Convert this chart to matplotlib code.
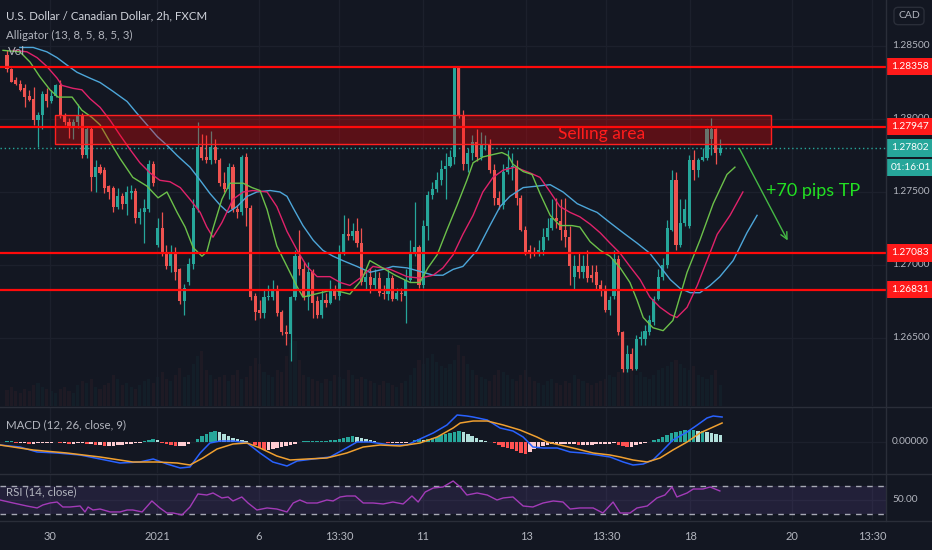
import matplotlib
matplotlib.use("Agg")
import matplotlib.pyplot as plt
import numpy as np
from matplotlib.transforms import blended_transform_factory
from matplotlib.patches import Rectangle
from matplotlib.lines import Line2D

plt.rcParams["font.family"] = ["Lato", "DejaVu Sans"]

# ---- data (bar index = one 2h candle) ----
opens = [
    1.2844, 1.2834, 1.2827, 1.2824, 1.2821, 1.2816, 1.2814, 1.2799, 1.2803, 1.2817,
    1.2812, 1.2816, 1.2823, 1.2803, 1.2798, 1.2794, 1.2798, 1.2803, 1.2775, 1.2793,
    1.2760, 1.2767, 1.2765, 1.2754, 1.2753, 1.2740, 1.2747, 1.2742, 1.2749, 1.2751,
    1.2732, 1.2736, 1.2738, 1.2769, 1.2714, 1.2725, 1.2709, 1.2699, 1.2709, 1.2697,
    1.2675, 1.2688, 1.2701, 1.2739, 1.2781, 1.2774, 1.2772, 1.2781, 1.2772, 1.2756,
    1.2752, 1.2767, 1.2738, 1.2736, 1.2774, 1.2739, 1.2679, 1.2669, 1.2667, 1.2678,
    1.2678, 1.2683, 1.2668, 1.2654, 1.2653, 1.2678, 1.2706, 1.2697, 1.2678, 1.2695,
    1.2675, 1.2666, 1.2676, 1.2674, 1.2683, 1.2679, 1.2708, 1.2721, 1.2720, 1.2723,
    1.2715, 1.2688, 1.2692, 1.2686, 1.2691, 1.2681, 1.2680, 1.2691, 1.2677, 1.2681,
    1.2679, 1.2690, 1.2708, 1.2712, 1.2686, 1.2727, 1.2748, 1.2752, 1.2758, 1.2766,
    1.2768, 1.2774, 1.2835, 1.2803, 1.2769, 1.2777, 1.2784, 1.2774, 1.2782, 1.2783,
    1.2765, 1.2746, 1.2741, 1.2764, 1.2767, 1.2767, 1.2746, 1.2724, 1.2710, 1.2709,
    1.2708, 1.2710, 1.2719, 1.2725, 1.2732, 1.2730, 1.2724, 1.2719, 1.2692, 1.2699,
    1.2695, 1.2699, 1.2693, 1.2695, 1.2686, 1.2683, 1.2669, 1.2679, 1.2704, 1.2654,
    1.2629, 1.2639, 1.2629, 1.2649, 1.2649, 1.2654, 1.2661, 1.2677, 1.2692, 1.2700,
    1.2724, 1.2758, 1.2714, 1.2729, 1.2727, 1.2772, 1.2765, 1.2772, 1.2773, 1.2786,
    1.2793, 1.2777,
]
highs = [
    1.2847, 1.2835, 1.2829, 1.2827, 1.2824, 1.2820, 1.2822, 1.2805, 1.2819, 1.2821,
    1.2820, 1.2824, 1.2827, 1.2804, 1.2801, 1.2800, 1.2810, 1.2804, 1.2795, 1.2795,
    1.2772, 1.2769, 1.2767, 1.2755, 1.2754, 1.2753, 1.2749, 1.2754, 1.2755, 1.2753,
    1.2739, 1.2745, 1.2772, 1.2771, 1.2732, 1.2736, 1.2714, 1.2714, 1.2712, 1.2698,
    1.2687, 1.2705, 1.2745, 1.2798, 1.2790, 1.2789, 1.2792, 1.2786, 1.2773, 1.2764,
    1.2770, 1.2769, 1.2741, 1.2775, 1.2777, 1.2741, 1.2681, 1.2676, 1.2683, 1.2686,
    1.2690, 1.2686, 1.2669, 1.2659, 1.2679, 1.2710, 1.2724, 1.2702, 1.2702, 1.2697,
    1.2679, 1.2683, 1.2681, 1.2690, 1.2686, 1.2714, 1.2734, 1.2732, 1.2729, 1.2732,
    1.2725, 1.2695, 1.2698, 1.2697, 1.2695, 1.2686, 1.2697, 1.2693, 1.2684, 1.2684,
    1.2697, 1.2717, 1.2743, 1.2714, 1.2731, 1.2751, 1.2757, 1.2764, 1.2772, 1.2777,
    1.2779, 1.2836, 1.2836, 1.2806, 1.2780, 1.2789, 1.2793, 1.2791, 1.2789, 1.2786,
    1.2769, 1.2751, 1.2769, 1.2779, 1.2777, 1.2772, 1.2748, 1.2727, 1.2714, 1.2712,
    1.2717, 1.2725, 1.2732, 1.2745, 1.2746, 1.2745, 1.2746, 1.2727, 1.2707, 1.2709,
    1.2707, 1.2710, 1.2700, 1.2700, 1.2690, 1.2686, 1.2679, 1.2710, 1.2707, 1.2655,
    1.2645, 1.2643, 1.2652, 1.2655, 1.2659, 1.2666, 1.2679, 1.2697, 1.2705, 1.2731,
    1.2765, 1.2764, 1.2745, 1.2745, 1.2775, 1.2779, 1.2773, 1.2780, 1.2794, 1.2801,
    1.2794, 1.2786,
]
lows = [
    1.2832, 1.2825, 1.2823, 1.2819, 1.2808, 1.2812, 1.2796, 1.2781, 1.2793, 1.2808,
    1.2811, 1.2815, 1.2801, 1.2796, 1.2787, 1.2786, 1.2794, 1.2773, 1.2773, 1.2751,
    1.2750, 1.2762, 1.2749, 1.2745, 1.2736, 1.2738, 1.2738, 1.2734, 1.2745, 1.2729,
    1.2728, 1.2715, 1.2736, 1.2754, 1.2712, 1.2706, 1.2697, 1.2695, 1.2690, 1.2673,
    1.2666, 1.2686, 1.2697, 1.2736, 1.2772, 1.2770, 1.2769, 1.2770, 1.2754, 1.2750,
    1.2745, 1.2736, 1.2732, 1.2734, 1.2727, 1.2676, 1.2662, 1.2664, 1.2664, 1.2676,
    1.2676, 1.2665, 1.2652, 1.2645, 1.2634, 1.2676, 1.2693, 1.2676, 1.2669, 1.2664,
    1.2664, 1.2664, 1.2671, 1.2673, 1.2677, 1.2676, 1.2707, 1.2717, 1.2717, 1.2712,
    1.2686, 1.2683, 1.2681, 1.2683, 1.2679, 1.2677, 1.2676, 1.2675, 1.2676, 1.2675,
    1.2660, 1.2688, 1.2706, 1.2684, 1.2684, 1.2717, 1.2745, 1.2750, 1.2755, 1.2745,
    1.2767, 1.2769, 1.2801, 1.2765, 1.2764, 1.2772, 1.2771, 1.2772, 1.2779, 1.2763,
    1.2741, 1.2738, 1.2738, 1.2762, 1.2758, 1.2741, 1.2723, 1.2707, 1.2705, 1.2706,
    1.2706, 1.2707, 1.2717, 1.2724, 1.2725, 1.2717, 1.2712, 1.2686, 1.2683, 1.2691,
    1.2691, 1.2688, 1.2688, 1.2683, 1.2679, 1.2668, 1.2666, 1.2677, 1.2652, 1.2627,
    1.2627, 1.2628, 1.2628, 1.2645, 1.2645, 1.2652, 1.2659, 1.2676, 1.2690, 1.2698,
    1.2723, 1.2710, 1.2712, 1.2727, 1.2725, 1.2758, 1.2760, 1.2771, 1.2772, 1.2775,
    1.2769, 1.2775,
]
closes = [
    1.2834, 1.2825, 1.2824, 1.2820, 1.2815, 1.2813, 1.2799, 1.2803, 1.2817, 1.2812,
    1.2816, 1.2823, 1.2803, 1.2798, 1.2794, 1.2798, 1.2803, 1.2775, 1.2793, 1.2760,
    1.2767, 1.2763, 1.2753, 1.2750, 1.2740, 1.2747, 1.2742, 1.2750, 1.2751, 1.2732,
    1.2736, 1.2739, 1.2769, 1.2756, 1.2725, 1.2708, 1.2699, 1.2709, 1.2695, 1.2675,
    1.2684, 1.2701, 1.2739, 1.2781, 1.2773, 1.2772, 1.2781, 1.2772, 1.2756, 1.2752,
    1.2767, 1.2738, 1.2736, 1.2774, 1.2739, 1.2678, 1.2668, 1.2667, 1.2678, 1.2679,
    1.2683, 1.2667, 1.2654, 1.2653, 1.2678, 1.2706, 1.2697, 1.2678, 1.2695, 1.2674,
    1.2666, 1.2676, 1.2674, 1.2683, 1.2679, 1.2708, 1.2721, 1.2720, 1.2723, 1.2715,
    1.2688, 1.2692, 1.2686, 1.2691, 1.2681, 1.2680, 1.2691, 1.2677, 1.2681, 1.2680,
    1.2690, 1.2708, 1.2712, 1.2686, 1.2727, 1.2748, 1.2752, 1.2758, 1.2766, 1.2768,
    1.2774, 1.2835, 1.2803, 1.2769, 1.2777, 1.2784, 1.2774, 1.2782, 1.2783, 1.2765,
    1.2746, 1.2741, 1.2764, 1.2767, 1.2768, 1.2746, 1.2724, 1.2709, 1.2708, 1.2708,
    1.2710, 1.2719, 1.2725, 1.2732, 1.2730, 1.2724, 1.2719, 1.2699, 1.2699, 1.2695,
    1.2699, 1.2691, 1.2691, 1.2686, 1.2683, 1.2669, 1.2676, 1.2704, 1.2654, 1.2629,
    1.2639, 1.2629, 1.2649, 1.2651, 1.2655, 1.2662, 1.2677, 1.2692, 1.2700, 1.2725,
    1.2758, 1.2714, 1.2729, 1.2738, 1.2772, 1.2765, 1.2772, 1.2774, 1.2793, 1.2793,
    1.2777, 1.27802,
]
volume = [
    15, 18, 14, 12, 16, 14, 20, 22, 18, 16, 14, 12, 16, 18, 14, 12, 20, 24, 22, 26,
    18, 16, 20, 22, 30, 26, 20, 22, 18, 16, 20, 24, 26, 22, 28, 32, 26, 24, 30, 36,
    28, 30, 40, 48, 52, 34, 30, 26, 28, 30, 24, 30, 34, 26, 28, 38, 46, 40, 32, 30,
    28, 34, 32, 48, 60, 62, 44, 30, 28, 26, 24, 22, 26, 24, 30, 28, 26, 34, 30, 26,
    28, 26, 24, 22, 20, 24, 22, 20, 18, 22, 24, 30, 36, 44, 40, 46, 50, 42, 38, 36,
    40, 44, 58, 48, 40, 34, 30, 28, 26, 24, 30, 34, 32, 30, 26, 24, 30, 34, 28, 24,
    22, 20, 24, 26, 22, 20, 24, 22, 30, 26, 24, 22, 20, 22, 24, 26, 30, 28, 32, 40,
    46, 34, 30, 32, 28, 26, 30, 34, 36, 38, 42, 44, 40, 36, 34, 38, 30, 28, 26, 30,
    34, 20,
]

# alligator lines (bar index, price), already shifted forward as on the chart
jaw_x = [2.9, 5.9, 9.0, 11.3, 13.5, 15.8, 18.7, 21.0, 23.9, 27.1, 29.3, 31.6, 33.9, 36.1,
         38.4, 40.2, 41.3, 43.6, 45.8, 48.1, 49.9, 51.9, 54.2, 56.4, 59.4, 61.6, 63.2,
         64.6, 66.8, 69.1, 71.3, 73.6, 75.8, 79.0, 81.9, 84.9, 87.1, 90.3, 93.9, 96.2,
         98.4, 100.7, 102.9, 106.1, 109.0, 111.3, 113.5, 116.5, 119.6, 122.6, 125.5,
         128.7, 131.6, 133.2, 136.1, 139.1, 142.2, 145.1, 147.4, 149.7, 151.9, 154.2,
         156.4, 158.7, 160.9, 163.9, 167.0, 169.3]
jaw_y = [1.2849, 1.2849, 1.2846, 1.2842, 1.2837, 1.2832, 1.2828, 1.2825, 1.2819, 1.2812,
         1.2804, 1.2796, 1.2788, 1.2782, 1.2775, 1.2770, 1.2767, 1.2758, 1.2749, 1.2741,
         1.2736, 1.2740, 1.2747, 1.2750, 1.2751, 1.2750, 1.2747, 1.2739, 1.2727, 1.2717,
         1.2710, 1.2706, 1.2703, 1.2699, 1.2695, 1.2697, 1.2699, 1.2698, 1.2695, 1.2693,
         1.2693, 1.2697, 1.2699, 1.2710, 1.2727, 1.2740, 1.2747, 1.2753, 1.2754, 1.2755,
         1.2750, 1.2742, 1.2738, 1.2736, 1.2729, 1.2722, 1.2715, 1.2708, 1.2699, 1.2690,
         1.2684, 1.2681, 1.2681, 1.2686, 1.2692, 1.2703, 1.2722, 1.2734]
teeth_x = [1.4, 4.5, 6.8, 9.0, 11.3, 12.4, 14.9, 16.9, 18.7, 21.0, 23.3, 25.5, 27.8, 30.0,
           32.3, 34.5, 36.8, 39.1, 41.3, 43.6, 45.1, 46.5, 48.5, 51.0, 53.3, 55.5, 58.7,
           60.9, 63.2, 65.5, 67.7, 70.0, 72.9, 75.2, 77.4, 79.7, 82.6, 86.5, 90.3, 93.2,
           96.2, 98.4, 100.7, 102.9, 105.2, 107.4, 109.7, 112.0, 114.7, 118.1, 120.3,
           122.6, 124.8, 127.1, 129.3, 131.6, 133.9, 136.1, 138.4, 140.6, 142.9, 145.1,
           147.4, 149.7, 151.2, 153.5, 155.8, 158.0, 160.3, 163.2, 166.1]
teeth_y = [1.2847, 1.2846, 1.2842, 1.2836, 1.2828, 1.2823, 1.2821, 1.2820, 1.2814, 1.2808,
           1.2799, 1.2789, 1.2779, 1.2770, 1.2763, 1.2758, 1.2757, 1.2753, 1.2745, 1.2736,
           1.2726, 1.2719, 1.2729, 1.2745, 1.2750, 1.2751, 1.2750, 1.2740, 1.2723, 1.2710,
           1.2699, 1.2692, 1.2692, 1.2688, 1.2686, 1.2691, 1.2699, 1.2697, 1.2692, 1.2691,
           1.2693, 1.2698, 1.2707, 1.2721, 1.2734, 1.2750, 1.2760, 1.2765, 1.2767, 1.2763,
           1.2760, 1.2750, 1.2740, 1.2736, 1.2733, 1.2728, 1.2722, 1.2715, 1.2708, 1.2699,
           1.2690, 1.2678, 1.2671, 1.2666, 1.2664, 1.2671, 1.2686, 1.2703, 1.2721, 1.2734,
           1.2750]
lips_x = [-0.9, 2.9, 5.2, 7.4, 9.7, 11.5, 14.7, 16.9, 19.2, 21.0, 23.3, 25.5, 28.4, 31.6,
          34.1, 36.1, 38.4, 40.2, 42.0, 44.0, 45.1, 46.5, 48.5, 50.3, 53.3, 55.3, 57.1,
          58.7, 60.9, 63.2, 65.5, 66.8, 69.5, 73.6, 77.4, 80.1, 81.9, 84.2, 87.6, 91.0,
          93.2, 95.0, 97.1, 99.3, 101.6, 103.8, 105.2, 107.4, 110.2, 111.7, 113.1, 114.2,
          116.5, 118.5, 120.3, 122.6, 124.8, 127.5, 129.3, 131.6, 133.9, 136.1, 138.4,
          140.6, 142.2, 143.6, 145.8, 148.1, 150.3, 153.5, 156.4, 159.4, 162.5, 164.3]
lips_y = [1.2847, 1.2846, 1.2839, 1.2829, 1.2820, 1.2815, 1.2815, 1.2806, 1.2801, 1.2796,
          1.2784, 1.2773, 1.2760, 1.2754, 1.2746, 1.2750, 1.2736, 1.2726, 1.2712, 1.2706,
          1.2709, 1.2725, 1.2745, 1.2756, 1.2756, 1.2753, 1.2751, 1.2738, 1.2713, 1.2699,
          1.2685, 1.2678, 1.2680, 1.2683, 1.2680, 1.2690, 1.2703, 1.2699, 1.2693, 1.2688,
          1.2688, 1.2698, 1.2707, 1.2724, 1.2741, 1.2758, 1.2770, 1.2774, 1.2776, 1.2777,
          1.2775, 1.2769, 1.2764, 1.2762, 1.2749, 1.2734, 1.2727, 1.2727, 1.2726, 1.2716,
          1.2710, 1.2706, 1.2698, 1.2688, 1.2676, 1.2664, 1.2657, 1.2655, 1.2662, 1.2695,
          1.2717, 1.2742, 1.2762, 1.2767]

# MACD (values in 1e-5)
macd_x = [-1.6, 2.9, 6.8, 11.3, 16.5, 21.0, 25.5, 30.0, 33.0, 36.1, 39.1, 41.3, 43.6, 45.8,
          48.1, 51.0, 54.2, 57.1, 60.0, 63.2, 65.5, 69.1, 72.9, 75.8, 79.0, 81.9, 86.5,
          90.3, 93.2, 96.2, 99.3, 101.6, 103.8, 105.2, 108.4, 111.3, 114.2, 116.5, 118.7,
          121.0, 124.2, 127.1, 130.0, 133.2, 136.1, 139.1, 141.3, 143.6, 145.8, 148.1,
          150.3, 153.5, 155.8, 158.0, 159.4, 161.4]
macd_y = [-6, -10, -20, -22, -26, -34, -42, -40, -34, -44, -52, -50, -22, -2, 2, 2, -2,
          -22, -40, -48, -38, -34, -30, -16, 0, 0, -6, -6, 6, 18, 34, 54, 52, 50, 44, 28,
          22, 10, -10, -12, -12, -20, -22, -26, -30, -40, -46, -44, -36, -16, 4, 20, 34,
          48, 52, 50]
signal_x = [-1.6, 5.9, 13.5, 21.0, 28.4, 33.9, 38.4, 41.3, 44.2, 47.4, 51.0, 54.2, 57.1,
            60.9, 63.9, 67.7, 72.2, 76.7, 80.4, 84.2, 88.7, 93.2, 97.1, 100.7, 102.3,
            105.2, 108.4, 112.0, 115.8, 119.6, 121.9, 124.8, 128.7, 132.3, 136.1, 138.4,
            141.3, 144.5, 147.4, 150.3, 153.5, 156.4, 159.4, 161.4]
signal_y = [-6, -16, -22, -30, -40, -40, -42, -46, -32, -14, -4, -2, -12, -28, -36, -34,
            -32, -22, -10, -6, -8, -2, 10, 28, 38, 42, 42, 34, 24, 10, 0, -6, -14, -22,
            -26, -30, -36, -40, -32, -16, 0, 18, 30, 38]
hist = [
    2, 2, -2, -2, -2, -4, -4, -2, -2, -2, -2, 0, -2, -2, -4, -4, -2, -2, -4, -4,
    -6, -6, -8, -8, -8, -6, -6, -4, -4, -2, -2, 2, 4, 6, 4, -2, -4, -6, -8, -8,
    -8, -4, 0, 6, 12, 16, 20, 22, 20, 16, 12, 8, 6, 4, 2, 0, -6, -12, -16, -16,
    -14, -12, -10, -8, -6, -4, 0, 2, 2, 2, 2, 2, 2, 4, 4, 6, 8, 10, 12, 10,
    8, 6, 4, 2, 0, 0, -2, -2, -2, -2, -2, 0, 4, 6, 4, 6, 8, 10, 14, 16,
    18, 20, 22, 20, 16, 12, 8, 4, 2, 0, -2, -6, -10, -12, -14, -18, -22, -24, -20, -14,
    -10, -8, -6, -4, -4, -4, -4, -4, -4, -6, -6, -6, -6, -4, -4, -4, -4, -2, -6, -8,
    -10, -10, -6, -4, -2, 0, 4, 6, 10, 14, 18, 20, 22, 24, 24, 24, 22, 22, 20, 18,
    16, 14,
]

# RSI (14)
rsi_x = [-1.6, 1.4, 4.5, 6.8, 8.1, 9.7, 11.3, 12.6, 14.2, 16.5, 17.6, 18.3, 19.4, 21.0,
         23.3, 25.5, 27.1, 28.4, 30.5, 32.7, 34.5, 36.1, 37.5, 39.5, 41.3, 43.1, 45.1,
         46.5, 48.5, 49.9, 51.0, 53.0, 54.4, 56.4, 58.7, 60.9, 63.2, 64.6, 66.1, 67.7,
         70.0, 72.2, 73.6, 75.2, 76.7, 78.6, 80.4, 82.6, 84.9, 87.1, 89.4, 91.4, 92.8,
         94.4, 96.2, 98.4, 100.7, 102.3, 103.8, 106.1, 108.4, 110.6, 112.0, 114.2, 116.5,
         118.7, 121.0, 123.3, 125.5, 127.1, 129.3, 132.3, 134.5, 136.8, 138.4, 140.6,
         142.2, 144.5, 146.7, 148.5, 150.1, 151.2, 153.5, 154.9, 157.1, 158.7, 160.9]
rsi_y = [50.0, 45.7, 41.4, 38.6, 42.9, 45.7, 47.1, 40.0, 40.0, 41.4, 32.9, 40.0, 35.7, 37.1,
         32.9, 32.9, 35.7, 35.7, 32.9, 48.6, 38.6, 31.4, 31.4, 28.6, 40.0, 58.6, 57.1,
         60.0, 52.9, 54.3, 48.6, 54.3, 45.7, 35.7, 38.6, 37.1, 32.9, 45.7, 50.0, 45.7,
         45.7, 50.0, 48.6, 54.3, 55.7, 55.7, 45.7, 45.7, 44.3, 47.1, 44.3, 55.7, 47.1,
         61.4, 67.1, 68.6, 77.1, 68.6, 57.1, 60.0, 57.1, 50.0, 52.9, 54.3, 41.4, 40.0,
         45.7, 48.6, 47.1, 37.1, 38.6, 38.6, 31.4, 47.1, 31.4, 31.4, 38.6, 41.4, 52.9,
         57.1, 68.6, 54.3, 60.0, 65.7, 65.7, 68.6, 62.9]

levels = [1.28358, 1.27947, 1.27083, 1.26831]
zone_lo, zone_hi = 1.2783, 1.2803
zone_x0, zone_x1 = 10.8, 172.5
tp_from = (165.0, 1.27815)
tp_to = (176.5, 1.27151)
countdown = "01:16:01"

tick_pos = [9.7, 33.9, 56.9, 74.9, 93.9, 117.2, 135.2, 154.2, 177.2, 195.3]
tick_labels = ["30", "2021", "6", "13:30", "11", "13", "13:30", "18", "20", "13:30"]
price_ticks = [1.265, 1.270, 1.275, 1.280, 1.285]

# ---- styling ----
BG = "#131722"
GRID = "#1c202c"
SEP = "#2a2e39"
TXT = "#b2b5be"
UP, DN = "#26a69a", "#ef5350"
W, H = 932, 550
PANE_R = 886
AXFS = 7.3

fig = plt.figure(figsize=(W / 100, H / 100), dpi=100, facecolor=BG)


def pane(top, bottom):
    return [0, 1 - bottom / H, PANE_R / W, (bottom - top) / H]


ax = fig.add_axes(pane(0, 406))
axm = fig.add_axes(pane(407, 473), sharex=ax)
axr = fig.add_axes(pane(475, 520), sharex=ax)

for a in (ax, axm, axr):
    a.set_facecolor(BG)
    for s in a.spines.values():
        s.set_visible(False)
    a.tick_params(axis="both", length=0, labelleft=False, labelbottom=False)
    a.grid(True, color=GRID, lw=1)
    a.set_axisbelow(True)

ax.set_xlim(-1.58, 198.4)
ax.set_xticks(tick_pos)
axr.tick_params(axis="x", labelbottom=True, pad=8, labelcolor=TXT, labelsize=8)
axr.set_xticklabels(tick_labels)


def right_labels(a, vals, texts):
    # price-scale labels drawn just right of the pane
    a.set_yticks(vals)
    a.set_yticklabels([])
    tr = blended_transform_factory(a.transAxes, a.transData)
    for v, t in zip(vals, texts):
        a.text(1 + 6 / PANE_R, v, t, transform=tr, ha="left", va="center",
               fontsize=AXFS, color=TXT, clip_on=False)


# ---- main pane ----
o = np.array(opens)
h = np.array(highs)
l = np.array(lows)
c = np.array(closes)
x = np.arange(len(c))
up = c >= o
cols = np.where(up, UP, DN)

ax.set_ylim(1.26034, 1.28815)
right_labels(ax, price_ticks, [f"{v:.5f}" for v in price_ticks])

# volume, very faint, behind candles
axv = ax.twinx()
axv.bar(x, volume, width=0.7, color=cols, alpha=0.05)
axv.set_ylim(0, max(volume) * 406 / 65)
axv.axis("off")
ax.set_zorder(axv.get_zorder() + 1)
ax.patch.set_visible(False)
axv.patch.set_visible(False)

ax.vlines(x, l, h, colors=cols, lw=0.9, zorder=3)
ax.bar(x, np.maximum(np.abs(c - o), 0.00003), bottom=np.minimum(o, c),
       width=0.7, color=cols, zorder=4)

ax.plot(jaw_x, jaw_y, color="#4da6d9", lw=1, zorder=5)
ax.plot(teeth_x, teeth_y, color="#e0226a", lw=1, zorder=5)
ax.plot(lips_x, lips_y, color="#6cc04a", lw=1, zorder=5)

ax.add_patch(Rectangle((zone_x0, zone_lo), zone_x1 - zone_x0, zone_hi - zone_lo,
                       facecolor=(1, 0, 0, 0.3), edgecolor="#ff2020", lw=1, zorder=6))
ax.text(134.1, 1.2790, "Selling area", color="#ff1c1c", fontsize=12.5,
        ha="center", va="center", zorder=7)

for lv in levels:
    ax.axhline(lv, color="#ff0a0a", lw=1.6, zorder=8)

ax.axhline(c[-1], color=UP, lw=1, ls=(0, (1, 2)), zorder=2)

ax.annotate("", xy=tp_to, xytext=tp_from,
            arrowprops=dict(arrowstyle="->", color="#45b845", lw=1, mutation_scale=12),
            zorder=9)
ax.text(181.9, 1.2751, "+70 pips TP", color="#22e022", fontsize=13,
        ha="center", va="center", zorder=9)

# price-axis labels
bt = blended_transform_factory(ax.transAxes, ax.transData)
lx = 1 + 5 / PANE_R
box = dict(boxstyle="square,pad=0.42", ec="none")
for lv in levels:
    ax.text(lx, lv, f"{lv:.5f}", transform=bt, ha="left", va="center", fontsize=AXFS,
            color="white", clip_on=False, zorder=20, bbox=dict(box, fc="#ff1a1a"))
ax.text(lx, c[-1], f"{c[-1]:.5f}", transform=bt, ha="left", va="center", fontsize=AXFS,
        color="white", clip_on=False, zorder=20, bbox=dict(box, fc=UP))
ax.annotate(countdown, xy=(lx, c[-1]), xycoords=bt, xytext=(0, -14),
            textcoords="offset points", ha="left", va="center", fontsize=AXFS,
            color="white", annotation_clip=False, zorder=20, bbox=dict(box, fc=UP))

# ---- MACD pane ----
hv = np.array(hist, dtype=float)
prev = np.concatenate([[hv[0]], hv[:-1]])
hcols = np.where(hv >= 0, np.where(hv >= prev, "#26a69a", "#b2dfdb"),
                 np.where(hv < prev, "#ff5252", "#ffcdd2"))
axm.bar(x, hv * 1e-5, width=0.8, color=hcols, zorder=3)
axm.plot(macd_x, np.array(macd_y) * 1e-5, color="#2962ff", lw=1.1, zorder=4)
axm.plot(signal_x, np.array(signal_y) * 1e-5, color="#f0a030", lw=1.1, zorder=4)
axm.set_ylim(-0.00062, 0.00070)
right_labels(axm, [0], ["0.00000"])

# ---- RSI pane ----
axr.axhspan(30, 70, color="#7e57c2", alpha=0.15, lw=0, zorder=1)
axr.axhline(70, color="#a7a9b5", lw=1, ls=(0, (4, 4)), zorder=2)
axr.axhline(30, color="#a7a9b5", lw=1, ls=(0, (4, 4)), zorder=2)
axr.plot(rsi_x, rsi_y, color="#a33bb8", lw=1, zorder=3)
axr.set_ylim(21.4, 85.7)
right_labels(axr, [50], ["50.00"])

# ---- pane separators and headers ----
for yy in (406.5, 474, 520.5):
    fig.add_artist(Line2D([0, 1], [1 - yy / H] * 2, color=SEP, lw=1))
fig.add_artist(Line2D([PANE_R / W] * 2, [1 - 520.5 / H, 1], color=SEP, lw=1))

fig.text(6 / W, 1 - 16 / H, "U.S. Dollar / Canadian Dollar, 2h, FXCM", color="#d1d4dc",
         fontsize=8.3, va="center", ha="left")
fig.text(6 / W, 1 - 35 / H, "Alligator (13, 8, 5, 8, 5, 3)", color=TXT,
         fontsize=8.3, va="center", ha="left")
fig.text(8 / W, 1 - 52 / H, "Vol", color=TXT, fontsize=8.3, va="center", ha="left")
fig.text(6 / W, 1 - 425 / H, "MACD (12, 26, close, 9)", color=TXT,
         fontsize=8.3, va="center", ha="left")
fig.text(6 / W, 1 - 492 / H, "RSI (14, close)", color=TXT,
         fontsize=8.3, va="center", ha="left")
fig.text(909 / W, 1 - 16 / H, "CAD", color=TXT, fontsize=7.5, va="center", ha="center",
         bbox=dict(boxstyle="round,pad=0.4", fc=BG, ec=SEP))

fig.savefig("out.png", dpi=100, facecolor=BG)
